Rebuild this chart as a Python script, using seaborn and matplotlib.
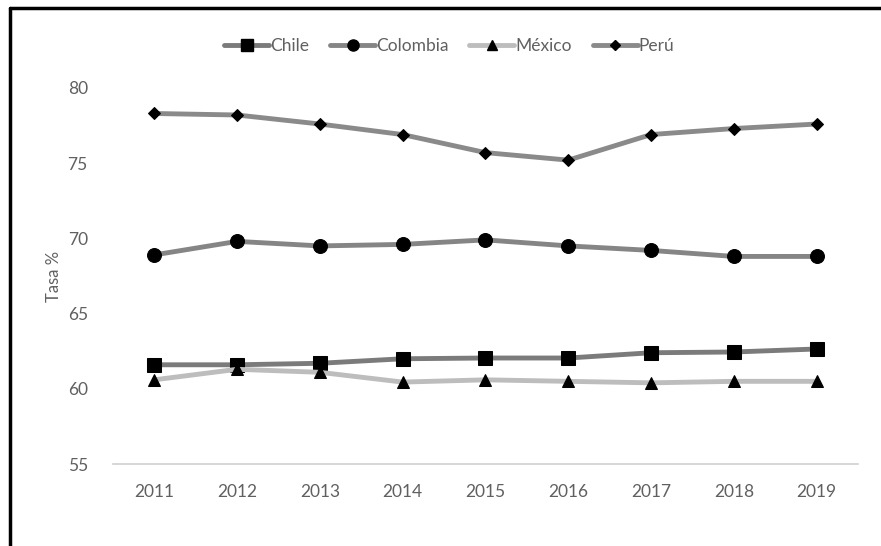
import matplotlib
matplotlib.use("Agg")
import matplotlib.pyplot as plt
import seaborn as sns
import pandas as pd
from matplotlib.lines import Line2D

years = [2011, 2012, 2013, 2014, 2015, 2016, 2017, 2018, 2019]
chile = [61.6, 61.6, 61.7, 62.0, 62.05, 62.05, 62.4, 62.45, 62.65]
colombia = [68.9, 69.8, 69.5, 69.6, 69.9, 69.5, 69.2, 68.8, 68.8]
mexico = [60.6, 61.3, 61.1, 60.45, 60.6, 60.5, 60.4, 60.5, 60.5]
peru = [78.3, 78.2, 77.6, 76.9, 75.7, 75.2, 76.9, 77.3, 77.6]

countries = ['Chile', 'Colombia', 'México', 'Perú']
line_colors = {'Chile': '#7b7b7b', 'Colombia': '#858585', 'México': '#bdbdbd', 'Perú': '#8a8a8a'}
marker_styles = {'Chile': 's', 'Colombia': 'o', 'México': '^', 'Perú': 'D'}
marker_sizes = {'Chile': 10, 'Colombia': 10, 'México': 9, 'Perú': 6.5}

data = pd.DataFrame({'year': years, 'Chile': chile, 'Colombia': colombia,
                     'México': mexico, 'Perú': peru})
long = data.melt(id_vars='year', var_name='pais', value_name='tasa')

sns.set_style('white')
plt.rcParams['font.family'] = ['Lato', 'DejaVu Sans']
text_gray = '#606060'

fig = plt.figure(figsize=(8.81, 5.46), dpi=100)
ax = fig.add_axes([0.128, 0.150, 0.846, 0.689])

for c in countries:
    sub = long[long['pais'] == c]
    sns.lineplot(data=sub, x='year', y='tasa', ax=ax, color=line_colors[c],
                 linewidth=3.5, marker=marker_styles[c], markersize=marker_sizes[c],
                 markerfacecolor='black', markeredgecolor='black', label=c, legend=False)

ax.set_xlim(2010.5, 2019.5)
ax.set_ylim(55, 80)
ax.set_yticks([55, 60, 65, 70, 75, 80])
ax.set_xticks(years)
ax.set_xticks([y + 0.5 for y in [2010] + years], minor=True)
ax.tick_params(axis='x', which='major', length=0, pad=14, labelsize=12.5, labelcolor=text_gray)
ax.tick_params(axis='x', which='minor', length=5, color='#d0d0d0', direction='out')
ax.tick_params(axis='y', length=0, pad=18, labelsize=12.5, labelcolor=text_gray)
ax.set_xlabel('')
ax.set_ylabel('Tasa %', fontsize=12, color=text_gray, labelpad=4)

for side in ['top', 'right', 'left']:
    ax.spines[side].set_visible(False)
ax.spines['bottom'].set_color('#d0d0d0')
ax.spines['bottom'].set_linewidth(1.2)

handles = [Line2D([], [], color=line_colors[c], linewidth=3.5, marker=marker_styles[c],
                  markersize=marker_sizes[c] * 0.8, markerfacecolor='black',
                  markeredgecolor='black') for c in countries]
leg = fig.legend(handles, countries, loc='center', bbox_to_anchor=(0.51, 0.916), ncol=4,
                 frameon=False, fontsize=12.5, handlelength=2.6, handletextpad=0.05,
                 columnspacing=1.2)
for t in leg.get_texts():
    t.set_color(text_gray)

# marco del recuadro (solo lados visibles)
fig.add_artist(Line2D([0.011, 1.0], [0.986, 0.986], transform=fig.transFigure, color='black', linewidth=2.5))
fig.add_artist(Line2D([0.011, 0.011], [0.0, 0.986], transform=fig.transFigure, color='black', linewidth=2.5))

fig.savefig('out.png', dpi=100)
